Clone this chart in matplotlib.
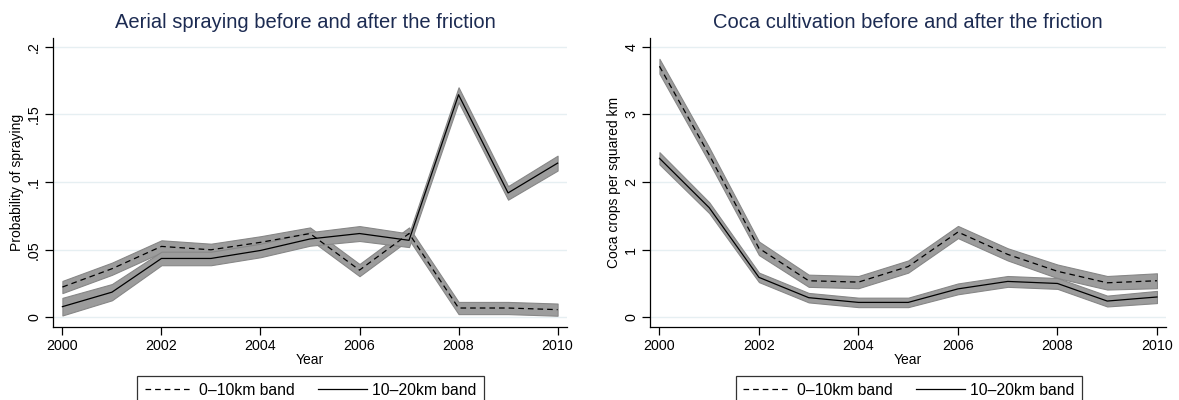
import matplotlib
matplotlib.use("Agg")
import matplotlib.pyplot as plt
from matplotlib.lines import Line2D
import numpy as np

plt.rcParams['font.family'] = ['Liberation Sans', 'DejaVu Sans']

years = [2000, 2001, 2002, 2003, 2004, 2005, 2006, 2007, 2008, 2009, 2010]

# Aerial spraying: point estimates and CI half-widths
spray_near = [0.0225, 0.036, 0.0525, 0.050, 0.0555, 0.062, 0.035, 0.062, 0.007, 0.007, 0.0058]
spray_near_ci = [0.0045, 0.0045, 0.0045, 0.0045, 0.0045, 0.0045, 0.0045, 0.0045, 0.0045, 0.0045, 0.0045]
spray_far = [0.008, 0.0187, 0.0436, 0.0436, 0.0495, 0.058, 0.062, 0.057, 0.1645, 0.092, 0.114]
spray_far_ci = [0.0065, 0.006, 0.005, 0.005, 0.005, 0.005, 0.0055, 0.005, 0.0055, 0.005, 0.0055]

# Coca cultivation: point estimates and CI half-widths
coca_near = [3.71, 2.40, 1.02, 0.54, 0.52, 0.75, 1.26, 0.93, 0.68, 0.51, 0.54]
coca_near_ci = [0.11, 0.11, 0.10, 0.09, 0.09, 0.09, 0.09, 0.09, 0.10, 0.10, 0.11]
coca_far = [2.35, 1.62, 0.59, 0.29, 0.22, 0.22, 0.42, 0.53, 0.50, 0.24, 0.30]
coca_far_ci = [0.09, 0.08, 0.07, 0.07, 0.07, 0.07, 0.08, 0.08, 0.08, 0.08, 0.09]

legend_labels = ["0\u201310km band", "10\u201320km band"]

spray_ticks = [0, 0.05, 0.1, 0.15, 0.2]
spray_ticklabels = ["0", ".05", ".1", ".15", ".2"]
coca_ticks = [0, 1, 2, 3, 4]
coca_ticklabels = ["0", "1", "2", "3", "4"]
x_ticks = [2000, 2002, 2004, 2006, 2008, 2010]

W, H = 1179, 400
fig = plt.figure(figsize=(W / 100, H / 100), dpi=100)

TITLE_COLOR = "#1c2b52"
GRID_COLOR = "#e6eff2"
BAND_FILL = "#9c9c9c"
BAND_EDGE = "#878787"
TICK_FS = 10.3
LABEL_FS = 10.0
DASHES = (4.5, 3.2)


def px_axes(x0, x1, y0, y1):
    return fig.add_axes([x0 / W, 1 - y1 / H, (x1 - x0) / W, (y1 - y0) / H])


def panel(ax, near, near_ci, far, far_ci, ticks, ticklabels, ylim, ylabel):
    x = np.array(years)
    for m, c in ((np.array(near), np.array(near_ci)), (np.array(far), np.array(far_ci))):
        ax.fill_between(x, m - c, m + c, facecolor=BAND_FILL, edgecolor=BAND_EDGE,
                        linewidth=0.8, zorder=2)
    ax.plot(x, near, color="black", lw=0.9, dashes=DASHES, zorder=3)
    ax.plot(x, far, color="black", lw=0.9, zorder=3)
    ax.set_xlim(1999.81, 2010.19)
    ax.set_ylim(*ylim)
    ax.set_xticks(x_ticks)
    ax.set_yticks(ticks)
    ax.set_yticklabels(ticklabels, rotation=90, va="center")
    for t in ticks:
        ax.axhline(t, color=GRID_COLOR, lw=1.0, zorder=1)
    for s in ("top", "right"):
        ax.spines[s].set_visible(False)
    for s in ("left", "bottom"):
        ax.spines[s].set_linewidth(0.9)
    ax.tick_params(direction="out", length=5.5, width=0.9, labelsize=TICK_FS, pad=3)
    ax.tick_params(axis="y", pad=3)
    ax.set_xlabel("Year", fontsize=LABEL_FS, labelpad=0)
    ax.set_ylabel(ylabel, fontsize=LABEL_FS, labelpad=2)


ax1 = px_axes(53, 567, 38, 327.3)
panel(ax1, spray_near, spray_near_ci, spray_far, spray_far_ci, spray_ticks,
      spray_ticklabels, (-0.00724, 0.2064), "Probability of spraying")

ax2 = px_axes(650, 1166.4, 38, 327.3)
panel(ax2, coca_near, coca_near_ci, coca_far, coca_far_ci, coca_ticks,
      coca_ticklabels, (-0.148, 4.128), "Coca crops per squared km")

fig.text(305 / W, 1 - 22 / H, "Aerial spraying before and after the friction",
         fontsize=14.5, color=TITLE_COLOR, ha="center", va="center")
fig.text(908 / W, 1 - 22 / H, "Coca cultivation before and after the friction",
         fontsize=14.5, color=TITLE_COLOR, ha="center", va="center")

handles = [Line2D([], [], color="black", lw=0.9, dashes=DASHES),
           Line2D([], [], color="black", lw=0.9)]

for cx in (310.5, 908.6):
    leg = fig.legend(handles, legend_labels, loc="upper center",
                     bbox_to_anchor=(cx / W, 1 - 375.7 / H), ncol=2,
                     fontsize=11.3, frameon=True, fancybox=False,
                     handlelength=3.1, handletextpad=0.35, columnspacing=1.5,
                     borderpad=0.45, borderaxespad=0)
    leg.get_frame().set_edgecolor("black")
    leg.get_frame().set_linewidth(0.9)

fig.savefig("out.png", dpi=100)
